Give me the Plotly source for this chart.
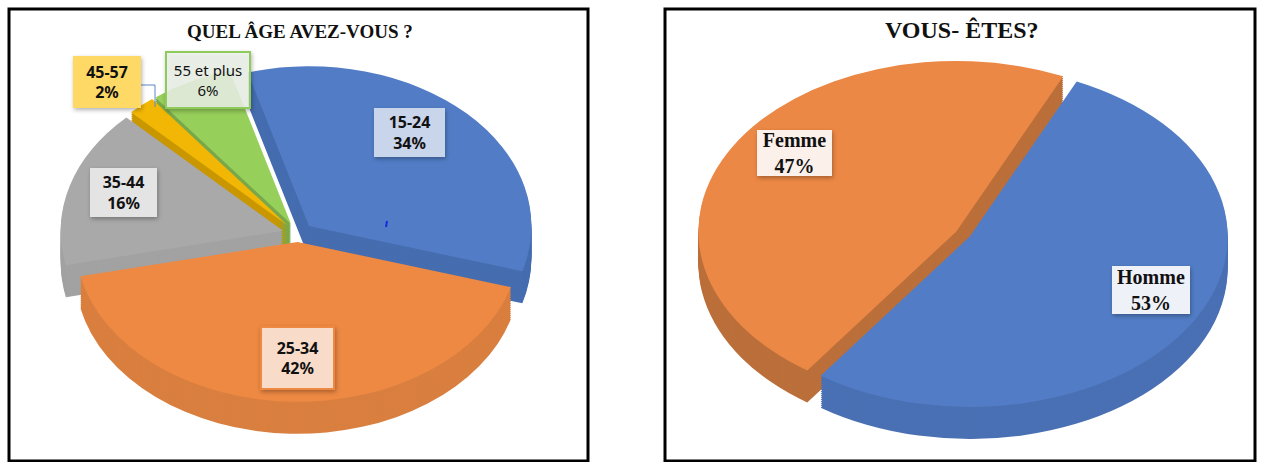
import plotly.graph_objects as go

W, H = 1261, 462

age_labels = ["15-24", "25-34", "35-44", "45-57", "55 et plus"]
age_values = [34, 42, 16, 2, 6]
age_colors = ["#527DC6", "#EE8943", "#A9A9A9", "#F2B705", "#97CF5B"]
age_sides = ["#456DAF", "#D97F3F", "#A2A2A2", "#C99700", "#79A84A"]

sex_labels = ["Homme", "Femme"]
sex_values = [53, 47]
sex_colors = ["#527DC6", "#EC8845"]
sex_sides = ["#4A70B4", "#BB6F3A"]

title_left = "QUEL ÂGE AVEZ-VOUS ?"
title_right = "VOUS- ÊTES?"


def px(x):
    return x / W


def py(y):
    return 1 - y / H


def pie(labels, values, colors, cx, cy, sx, sy, dy, pull, rotation):
    half = H / 2
    return go.Pie(
        labels=labels, values=values, sort=False, direction="clockwise",
        rotation=rotation, pull=pull, textinfo="none", hoverinfo="label+percent",
        showlegend=False, marker=dict(colors=colors, line=dict(width=0)),
        domain=dict(x=[px(cx - half), px(cx + half)], y=[0, 1]),
        meta=dict(cx=cx, cy=half, tx=cx, ty=cy + dy, sx=sx, sy=sy),
    )


depths = (32, 30, 28, 26, 24, 22, 20, 18, 16, 14, 12, 10, 8, 6, 4, 2)
age_pull = [0.07, 0.05, 0.07, 0.07, 0.07]
traces = []
# left pie: side wall stack, then the top face
for d in depths:
    traces.append(pie(age_labels, age_values, age_sides, 298, 234, 1.03, 0.74, d, age_pull, -16))
traces.append(pie(age_labels, age_values, age_colors, 298, 234, 1.03, 0.74, 0, age_pull, -16))
# right pie
for d in depths:
    traces.append(pie(sex_labels, sex_values, sex_sides, 963, 234, 1.15, 0.76, d, 0.03, 24.5))
traces.append(pie(sex_labels, sex_values, sex_colors, 963, 234, 1.15, 0.76, 0, 0.03, 24.5))

fig = go.Figure(traces)


def frame(x0, y0, x1, y1):
    return dict(type="rect", xref="paper", yref="paper", x0=px(x0), x1=px(x1),
                y0=py(y1), y1=py(y0), line=dict(color="#000000", width=3), layer="below")


def leader(x0, y0, x1, y1, color="#5B86C8", width=1):
    return dict(type="line", xref="paper", yref="paper", x0=px(x0), x1=px(x1),
                y0=py(y0), y1=py(y1), line=dict(color=color, width=width))


shapes = [
    frame(9, 9, 588, 461), frame(665, 9, 1255, 461),
    leader(141, 85, 155, 85), leader(155, 85, 155, 107),
    leader(387, 221, 386, 227, "#1030E0", 2),
]

SANS = "Noto Sans, Open Sans, sans-serif"
SERIF = "Liberation Serif, serif"


def label(text, x0, y0, x1, y1, bg, font, size, border=None, bw=0):
    return dict(
        text=text, xref="paper", yref="paper", x=px((x0 + x1) / 2), y=py((y0 + y1) / 2),
        xanchor="center", yanchor="middle", showarrow=False, width=x1 - x0, height=y1 - y0,
        bgcolor=bg, bordercolor=border or bg, borderwidth=bw, borderpad=0, align="center", valign="middle",
        font=dict(family=font, size=size, color="#111111"),
    )


def pct(values, i):
    return f"{round(100 * values[i] / sum(values))}%"


def b(s):
    return f"<b>{s}</b>"


annotations = [
    dict(text=b(title_left), xref="paper", yref="paper", x=px(300), y=py(32), showarrow=False,
         xanchor="center", yanchor="middle", font=dict(family=SERIF, size=19, color="#111111")),
    dict(text=b(title_right), xref="paper", yref="paper", x=px(962), y=py(30), showarrow=False,
         xanchor="center", yanchor="middle", font=dict(family=SERIF, size=24, color="#111111")),
    label(b(f"{age_labels[0]}<br>{pct(age_values, 0)}"), 374, 108, 445, 157, "#C9D5EA", SANS, 16),
    label(b(f"{age_labels[1]}<br>{pct(age_values, 1)}"), 262, 328, 333, 388, "#F9DBC9", SANS, 16, "#EE8943", 2),
    label(b(f"{age_labels[2]}<br>{pct(age_values, 2)}"), 90, 168, 157, 217, "#E4E4E4", SANS, 16),
    label(b(f"{age_labels[3]}<br>{pct(age_values, 3)}"), 73, 56, 141, 108, "#FFD966", SANS, 16),
    label(f"{age_labels[4]}<br>{pct(age_values, 4)}", 167, 53, 249, 107, "rgba(240,246,236,0.85)",
          SANS, 15, "#8FCB5A", 2),
    label(b(f"{sex_labels[1]}<br>{pct(sex_values, 1)}"), 757, 130, 832, 176, "#FBF0EA", SERIF, 20),
    label(b(f"{sex_labels[0]}<br>{pct(sex_values, 0)}"), 1112, 266, 1190, 314, "#EEF1F8", SERIF, 20),
]

fig.update_layout(
    width=W, height=H, margin=dict(l=0, r=0, t=0, b=0),
    paper_bgcolor="#FFFFFF", plot_bgcolor="#FFFFFF",
    shapes=shapes, annotations=annotations,
)

# Tilt the pies drawn by plotly into the perspective ellipse of the reference
post = """
document.body.style.margin = '0';
document.documentElement.style.overflow = 'hidden';
var gd = document.getElementById('{plot_id}');
function tilt() {
  gd.querySelectorAll('.pielayer .trace').forEach(function (g, i) {
    var m = gd.data[i].meta;
    g.setAttribute('transform', 'translate(' + m.tx + ',' + m.ty + ') scale(' + m.sx + ',' + m.sy + ') translate(' + (-m.cx) + ',' + (-m.cy) + ')');
  });
  gd.querySelectorAll('.annotation rect.bg').forEach(function (r) {
    r.style.filter = 'drop-shadow(1px 2px 2px rgba(0,0,0,0.3))';
  });
}
tilt();
gd.on('plotly_afterplot', tilt);
setTimeout(tilt, 50);
"""

fig.write_html("out.html", post_script=post, config=dict(displayModeBar=False))
